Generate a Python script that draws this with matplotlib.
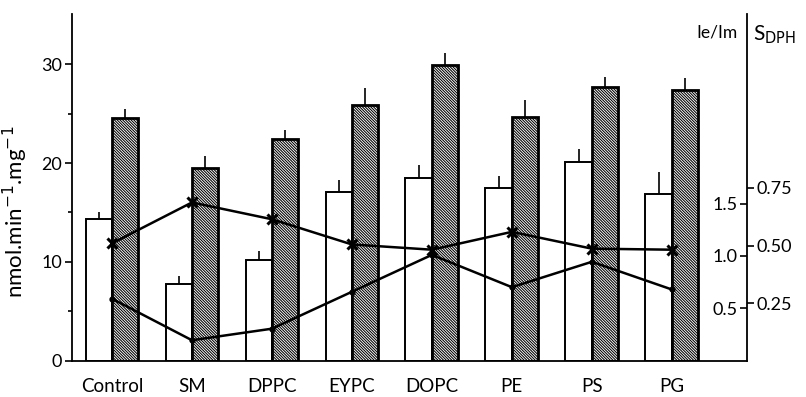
import numpy as np
import matplotlib
matplotlib.use("Agg")
import matplotlib.pyplot as plt

plt.rcParams['font.family'] = ['Lato', 'DejaVu Sans']
plt.rcParams['hatch.linewidth'] = 0.75

# data
lipids = ["Control", "SM", "DPPC", "EYPC", "DOPC", "PE", "PS", "PG"]
open_bar = [14.3, 7.8, 10.2, 17.1, 18.5, 17.5, 20.1, 16.9]
open_err = [0.7, 0.8, 0.9, 1.2, 1.3, 1.2, 1.3, 2.2]
hatch_bar = [24.5, 19.5, 22.4, 25.9, 29.9, 24.6, 27.7, 27.4]
hatch_err = [1.0, 1.2, 0.9, 1.7, 1.2, 1.8, 1.0, 1.2]
ie_im = [1.12, 1.51, 1.35, 1.11, 1.06, 1.23, 1.07, 1.06]
s_dph = [0.27, 0.09, 0.14, 0.30, 0.46, 0.32, 0.43, 0.31]

x = np.arange(len(lipids))
w = 0.33

fig = plt.figure(figsize=(8.06, 3.97), dpi=100)
ax = fig.add_axes([0.0893, 0.0907, 0.8375, 0.874])

ax.bar(x - w/2, open_bar, w, color="white", edgecolor="black", linewidth=1.4, zorder=2)
ax.bar(x + w/2, hatch_bar, w, color="white", edgecolor="black", linewidth=2.0,
       hatch="\\" * 12, zorder=2)
ax.errorbar(x - w/2, open_bar, yerr=[np.zeros(len(x)), open_err], fmt="none",
            ecolor="black", elinewidth=1.2, capsize=0, zorder=3)
ax.errorbar(x + w/2, hatch_bar, yerr=[np.zeros(len(x)), hatch_err], fmt="none",
            ecolor="black", elinewidth=1.2, capsize=0, zorder=3)

ax.set_xlim(-0.5, 7.94)
ax.set_ylim(0, 35.05)
ax.set_xticks(x)
ax.set_xticklabels(lipids, fontsize=13.5)
ax.tick_params(axis="x", length=0, pad=12)
ax.set_yticks([0, 10, 20, 30])
ax.set_yticks([5, 15, 25], minor=True)
ax.tick_params(axis="y", which="major", length=5, width=1.2, labelsize=13, pad=2)
ax.tick_params(axis="y", which="minor", length=3, width=1.2)
ax.set_ylabel("nmol.min$^{-1}$.mg$^{-1}$", fontsize=16)
ax.yaxis.set_label_coords(-0.062, 0.43)
ax.spines["top"].set_visible(False)
ax.spines["right"].set_visible(False)
for s in ["left", "bottom"]:
    ax.spines[s].set_linewidth(1.3)

# Ie/Im scale, ticks inside the right spine
ax2 = ax.twinx()
ax2.set_ylim(0, 347 / 105)
ax2.plot(x, ie_im, color="black", lw=1.8, marker="x", ms=7, mew=2.2, zorder=5)
ax2.set_yticks([0.5, 1.0, 1.5])
ax2.set_yticklabels(["0.5", "1.0", "1.5"])
ax2.tick_params(axis="y", direction="in", length=5, width=1.2, labelsize=13, pad=-7)
for lab in ax2.get_yticklabels():
    lab.set_horizontalalignment("right")
for s in ["top", "left", "bottom"]:
    ax2.spines[s].set_visible(False)
ax2.spines["right"].set_linewidth(1.3)

# S_DPH scale, ticks outside the right spine
ax3 = ax.twinx()
ax3.set_ylim(0, 347 / 230.7)
ax3.plot(x, s_dph, color="black", lw=1.8, marker="o", ms=3.5, zorder=5)
ax3.set_yticks([0.25, 0.50, 0.75])
ax3.set_yticklabels(["0.25", "0.50", "0.75"])
ax3.tick_params(axis="y", direction="out", length=5, width=1.2, labelsize=13, pad=2)
for s in ["top", "left", "bottom", "right"]:
    ax3.spines[s].set_visible(False)

fig.text(0.9156, 0.917, "Ie/Im", ha="right", va="center", fontsize=12.5)
fig.text(0.934, 0.912, "S$_{\\mathrm{DPH}}$", ha="left", va="center", fontsize=15)

fig.savefig("out.png", dpi=100)
